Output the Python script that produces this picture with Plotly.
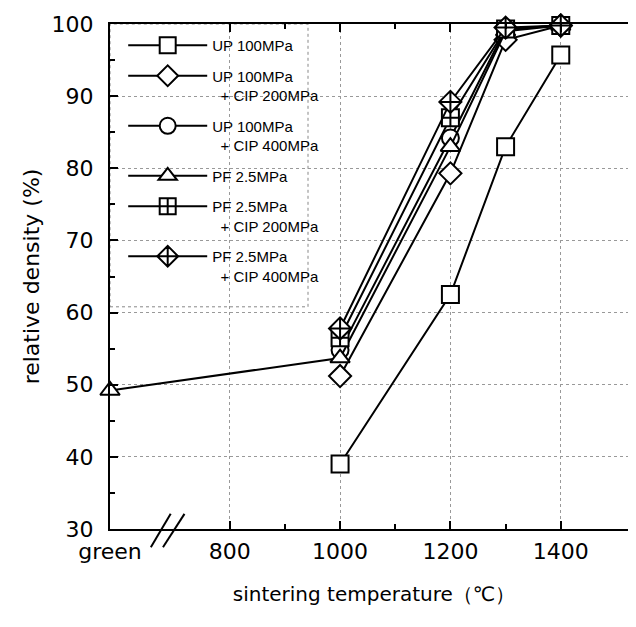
import plotly.graph_objects as go

GREEN_X = 583  # position used for the "green" (unsintered) category
temps = [1000, 1200, 1300, 1400]
series_names = [
    "UP 100MPa",
    "UP 100MPa<br>  + CIP 200MPa",
    "UP 100MPa<br>  + CIP 400MPa",
    "PF 2.5MPa",
    "PF 2.5MPa<br>  + CIP 200MPa",
    "PF 2.5MPa<br>  + CIP 400MPa",
]
up100 = [39.0, 62.5, 83.0, 95.7]
up100_cip200 = [51.2, 79.3, 97.8, 99.8]
up100_cip400 = [54.8, 84.2, 99.3, 99.8]
pf25_green = 49.2
pf25 = [53.7, 83.0, 99.0, 99.8]
pf25_cip200 = [56.5, 87.0, 99.3, 99.8]
pf25_cip400 = [57.8, 89.2, 99.5, 99.8]

x_tickvals = [GREEN_X, 800, 1000, 1200, 1400]
x_ticktext = ["green", "800", "1000", "1200", "1400"]
y_tickvals = [30, 40, 50, 60, 70, 80, 90, 100]

symbols = ["square", "diamond", "circle", "triangle-up", "square-cross", "diamond-cross"]
xs = [temps, temps, temps, [GREEN_X] + temps, temps, temps]
ys = [up100, up100_cip200, up100_cip400, [pf25_green] + pf25, pf25_cip200, pf25_cip400]

FONT = "DejaVu Sans, Verdana, sans-serif"
LFONT = "Liberation Sans, Arial, sans-serif"

fig = go.Figure()
for i, (name, sym, x, y) in enumerate(zip(series_names, symbols, xs, ys)):
    fig.add_trace(go.Scatter(
        x=x, y=y, name=name, mode="lines+markers", legendgroup=f"g{i}",
        line=dict(color="black", width=2),
        marker=dict(symbol=sym, size=17, color="white", line=dict(color="black", width=2)),
        cliponaxis=False,
    ))

axis_font = dict(family=FONT, size=22, color="black")
fig.update_layout(
    width=636, height=627,
    margin=dict(l=102, r=4, t=14, b=106),
    plot_bgcolor="white", paper_bgcolor="white",
    showlegend=True,
    legend=dict(
        x=0.025, y=0.99, xanchor="left", yanchor="top",
        bgcolor="rgba(255,255,255,0)", borderwidth=0,
        font=dict(family=LFONT, size=15, color="black"),
        tracegroupgap=8, valign="top", itemwidth=79,
    ),
    xaxis=dict(
        range=[GREEN_X, 1540], tickvals=x_tickvals, ticktext=x_ticktext,
        ticks="inside", ticklen=8, tickwidth=2, tickcolor="black",
        showline=True, linecolor="black", linewidth=2, mirror="ticks",
        showgrid=True, gridcolor="#999", griddash="dot", gridwidth=1,
        tickfont=axis_font, zeroline=False, ticklabelstandoff=2,
        minor=dict(tickmode="array", tickvals=[900, 1100, 1300], ticks="inside",
                   ticklen=5, tickwidth=1.5, tickcolor="black", showgrid=False),
        title=dict(text="sintering temperature（℃）", font=dict(family=FONT, size=20, color="black"), standoff=24),
    ),
    yaxis=dict(
        range=[30, 100], tickvals=y_tickvals,
        ticks="inside", ticklen=8, tickwidth=2, tickcolor="black",
        showline=True, linecolor="black", linewidth=2, mirror="ticks",
        showgrid=True, gridcolor="#999", griddash="dot", gridwidth=1,
        tickfont=axis_font, zeroline=False, ticklabelstandoff=10,
        minor=dict(dtick=5, ticks="inside", ticklen=5, tickwidth=1.5, tickcolor="black", showgrid=False),
        title=dict(text="relative density (%)", font=dict(family=FONT, size=22, color="black"), standoff=6),
    ),
)

# axis break marks "//"
for x0, x1 in ((657, 693), (679, 718)):
    fig.add_shape(type="line", xref="x", yref="paper",
                  x0=x0, y0=-0.036, x1=x1, y1=0.03,
                  line=dict(color="black", width=2))
# dotted, white legend frame
fig.add_shape(type="rect", xref="paper", yref="paper", x0=0.0, y0=0.44, x1=0.375, y1=1.0,
              line=dict(color="#888", width=1, dash="dot"), fillcolor="white", layer="below")

fig.write_html("out.html")
